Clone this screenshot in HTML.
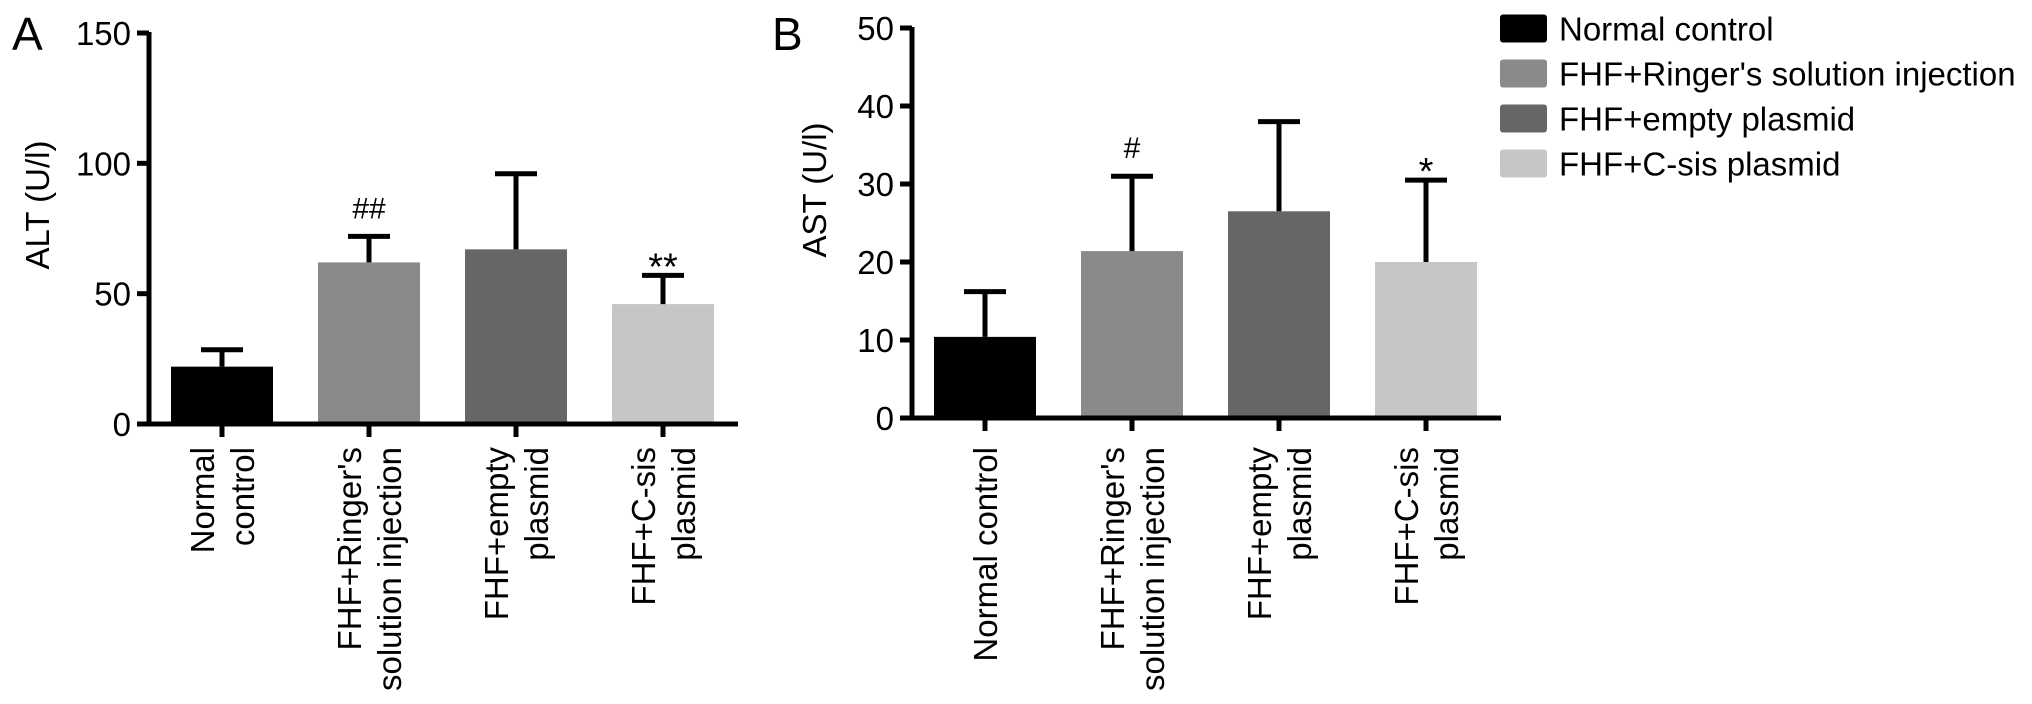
<!DOCTYPE html>
<html><head><meta charset="utf-8">
<style>
html,body{margin:0;padding:0;background:#fff;}
svg{display:block;font-family:"Liberation Sans",Arial,sans-serif;}
</style></head>
<body>
<svg id="chart" width="2032" height="704" viewBox="0 0 2032 704" xmlns="http://www.w3.org/2000/svg"></svg>
<script>
const categories = [["Normal","control"],["FHF+Ringer's","solution injection"],["FHF+empty","plasmid"],["FHF+C-sis","plasmid"]];
const legendLabels = ["Normal control","FHF+Ringer's solution injection","FHF+empty plasmid","FHF+C-sis plasmid"];
const colors = ["#000000","#8a8a8a","#666666","#c6c6c6"];
const altMeans = [22, 62, 67, 46];
const altErrTops = [28.5, 72, 96, 57];
const altMarks = ["", "##", "", "**"];
const altTicks = [0, 50, 100, 150];
const astMeans = [10.4, 21.4, 26.5, 20];
const astErrTops = [16.2, 31, 38, 30.5];
const astMarks = ["", "#", "", "*"];
const astTicks = [0, 10, 20, 30, 40, 50];

const NS = "http://www.w3.org/2000/svg";
const svg = document.getElementById("chart");
function mk(tag, attrs, parent){const e=document.createElementNS(NS,tag);for(const k in attrs)e.setAttribute(k,attrs[k]);(parent||svg).appendChild(e);return e;}

function panel(cfg){
  const g = mk("g",{});
  
  
  const x0=cfg.axisX, base=cfg.base, top=cfg.top, ymax=cfg.ymax;
  const y = v => base - (v/ymax)*(base-top);
  const cx = i => x0 + 73 + i*147;
  const bw = 102;
  cfg.means.forEach((m,i)=>{
    const r = mk("rect",{x:cx(i)-bw/2,y:y(m),width:bw,height:base-y(m),fill:colors[i]},g);
    
    
    const e = mk("path",{d:`M${cx(i)} ${y(m)} V${y(cfg.errs[i])} M${cx(i)-21} ${y(cfg.errs[i])} H${cx(i)+21}`,stroke:"#000","stroke-width":5,fill:"none"},g);
    
    
    if(cfg.marks[i]){
      const t = mk("text",{x:cx(i),y:y(cfg.errs[i])-(cfg.marks[i].indexOf('*')>=0?-4:18),"text-anchor":"middle","font-size":cfg.marks[i].indexOf('*')>=0?38:30},g);
      t.textContent = cfg.marks[i];
      
      
    }
  });
  const ax = mk("path",{d:`M${x0} ${top-1} V${base} M${x0-3} ${base} H${x0+73+3*147+75}`,stroke:"#000","stroke-width":5,fill:"none"},g);
  
  
  cfg.ticks.forEach(v=>{
    mk("line",{x1:x0-12,x2:x0,y1:y(v),y2:y(v),stroke:"#000","stroke-width":5},g);
    const t = mk("text",{x:x0-18,y:y(v)+12,"text-anchor":"end","font-size":33},g);
    t.textContent = v;
    
    
  });
  categories.forEach((c,i)=>{
    mk("line",{x1:cx(i),x2:cx(i),y1:base,y2:base+13,stroke:"#000","stroke-width":5},g);
    const lines = (cfg.key==="ast" && i===0) ? ["Normal control"] : c;
    lines.forEach((ln,j)=>{
      const off = lines.length===1 ? 12 : (j===0 ? -8 : 32);
      const t = mk("text",{transform:`translate(${cx(i)+off},447) rotate(-90)`,"text-anchor":"end","font-size":33},g);
      t.textContent = ln;
      
      
    });
  });
  const yt = mk("text",{transform:`translate(${cfg.titleX},${cfg.titleY}) rotate(-90)`,"text-anchor":"middle","font-size":33},g);
  yt.textContent = cfg.title;
  
  
  const pl = mk("text",{x:cfg.letterX,y:50,"font-size":46},g);
  pl.textContent = cfg.letter;
  
  
}

panel({name:"panel-a-alt",key:"alt",axisX:149,base:424,top:33,ymax:150,means:altMeans,errs:altErrTops,marks:altMarks,ticks:altTicks,title:"ALT (U/l)",titleX:49,titleY:205,letter:"A",letterX:12});
panel({name:"panel-b-ast",key:"ast",axisX:912,base:418,top:28,ymax:50,means:astMeans,errs:astErrTops,marks:astMarks,ticks:astTicks,title:"AST (U/l)",titleX:826,titleY:190,letter:"B",letterX:772});

const lg = mk("g",{});


legendLabels.forEach((l,i)=>{
  const yc = 28.5 + i*45;
  const r = mk("rect",{x:1500,y:yc-14,width:47,height:28,rx:3,fill:colors[i]},lg);
  
  
  const t = mk("text",{x:1559,y:yc+12,"font-size":33},lg);
  t.textContent = l;
  
  
});
</script>
</body></html>
